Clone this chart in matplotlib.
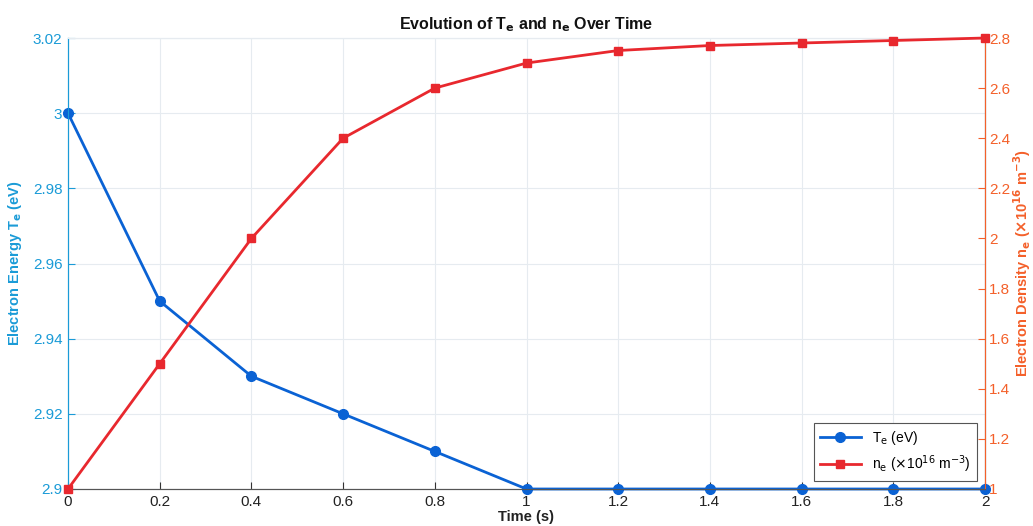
import matplotlib.pyplot as plt

# --- DATA ---
time_s = [0, 0.2, 0.4, 0.6, 0.8, 1.0, 1.2, 1.4, 1.6, 1.8, 2.0]
te_ev = [3.0, 2.95, 2.93, 2.92, 2.91, 2.9, 2.9, 2.9, 2.9, 2.9, 2.9]
ne_e16 = [1.0, 1.5, 2.0, 2.4, 2.6, 2.7, 2.75, 2.77, 2.78, 2.79, 2.8]
x_ticks = [0, 0.2, 0.4, 0.6, 0.8, 1, 1.2, 1.4, 1.6, 1.8, 2]
x_labels = ["0", "0.2", "0.4", "0.6", "0.8", "1", "1.2", "1.4", "1.6", "1.8", "2"]
left_ticks = [2.9, 2.92, 2.94, 2.96, 2.98, 3.0, 3.02]
left_labels = ["2.9", "2.92", "2.94", "2.96", "2.98", "3", "3.02"]
right_ticks = [1, 1.2, 1.4, 1.6, 1.8, 2, 2.2, 2.4, 2.6, 2.8]
right_labels = ["1", "1.2", "1.4", "1.6", "1.8", "2", "2.2", "2.4", "2.6", "2.8"]

# --- STYLE ---
plt.rcParams['font.family'] = ['Liberation Sans', 'DejaVu Sans']
LEFT_AX = '#1a9bd7'
TE_LINE = '#0a62d4'
RIGHT_AX = '#f4602a'
NE_LINE = '#e8282e'
GRID = '#e6ebf0'

fig = plt.figure(figsize=(10.33, 5.26), dpi=100)
ax = fig.add_axes([68 / 1033, 1 - 489 / 526, (985 - 68) / 1033, (489 - 38) / 526])
ax2 = ax.twinx()

l1, = ax.plot(time_s, te_ev, '-o', color=TE_LINE, lw=2, ms=7, clip_on=False, zorder=3,
              label=r'T$_{\mathrm{e}}$ (eV)')
l2, = ax2.plot(time_s, ne_e16, '-s', color=NE_LINE, lw=2, ms=6, clip_on=False, zorder=3,
               label=r'n$_{\mathrm{e}}$ ($\times$10$^{16}$ m$^{-3}$)')

ax.set_xlim(0, 2)
ax.set_ylim(2.9, 3.02)
ax2.set_ylim(1, 2.8)
ax.set_xticks(x_ticks, x_labels)
ax.set_yticks(left_ticks, left_labels)
ax2.set_yticks(right_ticks, right_labels)

ax.grid(True, color=GRID, lw=0.8)
ax.set_axisbelow(True)

for a in (ax, ax2):
    for s in a.spines.values():
        s.set_linewidth(0.8)
    a.tick_params(direction='in', length=5, width=0.8, labelsize=11)
ax.spines['left'].set_color(LEFT_AX)
ax.spines['top'].set_color(GRID)
ax.spines['bottom'].set_color('#555555')
ax2.spines['left'].set_color(LEFT_AX)
ax2.spines['right'].set_color(RIGHT_AX)
ax2.spines['top'].set_color(GRID)
ax2.spines['bottom'].set_color('#555555')
ax.tick_params(axis='y', colors=LEFT_AX, labelcolor=LEFT_AX, pad=4)
ax.tick_params(axis='x', colors='#333333', labelcolor='#222222', pad=4)
ax2.tick_params(axis='y', colors=RIGHT_AX, labelcolor=RIGHT_AX, pad=3)

ax.set_xlabel('Time (s)', fontsize=10.5, fontweight='bold', color='#222222', labelpad=1)
ax.set_ylabel(r'Electron Energy T$_{\mathbf{e}}$ (eV)', fontsize=10.5, fontweight='bold',
              color=LEFT_AX, labelpad=6)
ax2.set_ylabel(r'Electron Density n$_{\mathbf{e}}$ ($\mathbf{\times}$10$^{\mathbf{16}}$ m$^{\mathbf{-3}}$)',
               fontsize=10.5, fontweight='bold', color=RIGHT_AX, labelpad=1)
ax.set_title(r'Evolution of T$_{\mathbf{e}}$ and n$_{\mathbf{e}}$ Over Time', fontsize=11.5,
             fontweight='bold', color='#111111', pad=6)

leg = ax2.legend(handles=[l1, l2], loc='lower right', fontsize=10, frameon=True,
                 fancybox=False, edgecolor='#555555', handlelength=3.0,
                 borderaxespad=0.6, framealpha=1, borderpad=0.4, labelspacing=0.5)
leg.get_frame().set_linewidth(0.8)

fig.savefig('out.png', dpi=100)
